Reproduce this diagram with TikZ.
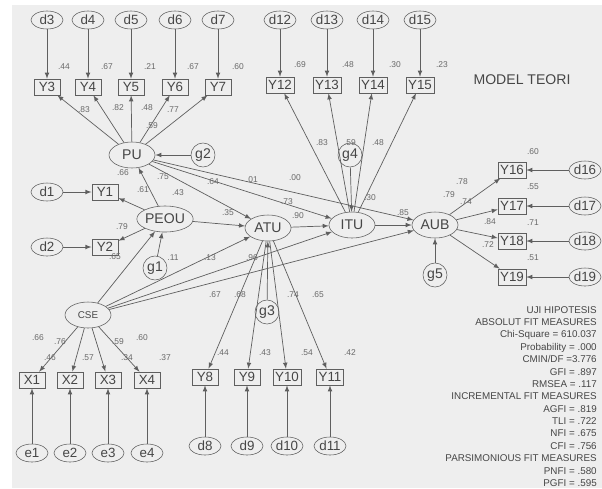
\documentclass[tikz,border=0pt]{standalone}
\usepackage{fontspec}
\setmainfont{Liberation Sans}
\usetikzlibrary{arrows,shapes.geometric}
\newcommand{\SemArrowType}{latex}
\definecolor{linegray}{RGB}{95,95,95}
\definecolor{txtgray}{RGB}{70,70,70}
\definecolor{wtgray}{RGB}{105,105,105}
\definecolor{bggray}{RGB}{238,238,238}

\begin{document}
\begin{tikzpicture}[>=\SemArrowType, x=0.025cm, y=-0.025cm,
        obs/.style={draw=linegray, rectangle, minimum width=0.66cm, minimum height=0.4cm, inner sep=1.5pt, text=txtgray, font=\fontsize{9.5}{10}\selectfont},
        lat/.style={draw=linegray, ellipse, minimum width=1.15cm, minimum height=0.65cm, inner sep=0pt, text=txtgray, font=\fontsize{10}{11}\selectfont},
        err/.style={draw=linegray, ellipse, minimum width=0.8cm, minimum height=0.45cm, inner sep=0pt, text=txtgray, font=\fontsize{9.5}{10}\selectfont},
        res/.style={draw=linegray, circle, minimum size=0.6cm, inner sep=0pt, text=txtgray, font=\fontsize{10}{11}\selectfont},
        wt/.style={text=wtgray, inner sep=0pt, font=\fontsize{6}{7}\selectfont},
        link/.style={->, draw=linegray, line width=0.5pt}]
                \fill[white] (0,0) rectangle (602,488);
                \fill[bggray] (12,5) rectangle (602,488);
                \useasboundingbox (0,0) rectangle (602,488);

                % latent variables
                \node[lat] (PU) at (132,155) {PU};
                \node[lat] (PEOU) at (165,219) {PEOU};
                \node[lat] (ATU) at (268,228) {ATU};
                \node[lat] (ITU) at (352,225) {ITU};
                \node[lat] (AUB) at (435,225) {AUB};
                \node[lat, font=\fontsize{7}{8}\selectfont] (CSE) at (88,315) {CSE};

                % residuals
                \node[res] (g1) at (155,268) {g1};
                \node[res] (g2) at (203,155) {g2};
                \node[res] (g3) at (267,312) {g3};
                \node[res] (g4) at (350,155) {g4};
                \node[res] (g5) at (435,275) {g5};

                % indicators of PU
                \node[obs] (Y3) at (47,87) {Y3};
                \node[obs] (Y4) at (88,87) {Y4};
                \node[obs] (Y5) at (131,87) {Y5};
                \node[obs] (Y6) at (175,87) {Y6};
                \node[obs] (Y7) at (218,87) {Y7};
                \node[err] (d3) at (47,20) {d3};
                \node[err] (d4) at (88,20) {d4};
                \node[err] (d5) at (131,20) {d5};
                \node[err] (d6) at (175,20) {d6};
                \node[err] (d7) at (218,20) {d7};

                % indicators of ITU
                \node[obs] (Y12) at (280,85) {Y12};
                \node[obs] (Y13) at (327,85) {Y13};
                \node[obs] (Y14) at (373,85) {Y14};
                \node[obs] (Y15) at (420,85) {Y15};
                \node[err] (d12) at (280,20) {d12};
                \node[err] (d13) at (327,20) {d13};
                \node[err] (d14) at (373,20) {d14};
                \node[err] (d15) at (420,20) {d15};

                % indicators of PEOU
                \node[obs] (Y1) at (105,192) {Y1};
                \node[obs] (Y2) at (105,247) {Y2};
                \node[err] (d1) at (47,192) {d1};
                \node[err] (d2) at (47,247) {d2};

                % indicators of AUB
                \node[obs] (Y16) at (512,170) {Y16};
                \node[obs] (Y17) at (512,206) {Y17};
                \node[obs] (Y18) at (512,241) {Y18};
                \node[obs] (Y19) at (512,277) {Y19};
                \node[err] (d16) at (585,170) {d16};
                \node[err] (d17) at (585,206) {d17};
                \node[err] (d18) at (585,241) {d18};
                \node[err] (d19) at (585,277) {d19};

                % indicators of CSE
                \node[obs] (X1) at (32,380) {X1};
                \node[obs] (X2) at (70,380) {X2};
                \node[obs] (X3) at (108,380) {X3};
                \node[obs] (X4) at (147,380) {X4};
                \node[err] (e1) at (32,453) {e1};
                \node[err] (e2) at (70,453) {e2};
                \node[err] (e3) at (108,453) {e3};
                \node[err] (e4) at (147,453) {e4};

                % indicators of ATU
                \node[obs] (Y8) at (205,377) {Y8};
                \node[obs] (Y9) at (247,377) {Y9};
                \node[obs] (Y10) at (287,377) {Y10};
                \node[obs] (Y11) at (330,377) {Y11};
                \node[err] (d8) at (205,446) {d8};
                \node[err] (d9) at (247,446) {d9};
                \node[err] (d10) at (287,446) {d10};
                \node[err] (d11) at (330,446) {d11};

                % paths
                \draw[link] (d3) -- (Y3);
                \draw[link] (d4) -- (Y4);
                \draw[link] (d5) -- (Y5);
                \draw[link] (d6) -- (Y6);
                \draw[link] (d7) -- (Y7);
                \draw[link] (PU) -- (Y3);
                \draw[link] (PU) -- (Y4);
                \draw[link] (PU) -- (Y5);
                \draw[link] (PU) -- (Y6);
                \draw[link] (PU) -- (Y7);
                \draw[link] (g2) -- (PU);
                \draw[link] (d12) -- (Y12);
                \draw[link] (d13) -- (Y13);
                \draw[link] (d14) -- (Y14);
                \draw[link] (d15) -- (Y15);
                \draw[link] (ITU) -- (Y12);
                \draw[link] (ITU) -- (Y13);
                \draw[link] (ITU) -- (Y14);
                \draw[link] (ITU) -- (Y15);
                \draw[link] (g4) -- (ITU);
                \draw[link] (d1) -- (Y1);
                \draw[link] (d2) -- (Y2);
                \draw[link] (PEOU) -- (Y1);
                \draw[link] (PEOU) -- (Y2);
                \draw[link] (PEOU) -- (PU);
                \draw[link] (g1) -- (PEOU);
                \draw[link] (PEOU) -- (ATU);
                \draw[link] (PU) -- (ATU);
                \draw[link] (PU) -- (ITU);
                \draw[link] (PU) -- (AUB);
                \draw[link] (CSE) -- (PEOU);
                \draw[link] (CSE) -- (ATU);
                \draw[link] (CSE) -- (ITU);
                \draw[link] (CSE) -- (AUB);
                \draw[link] (ATU) -- (ITU);
                \draw[link] (ITU) -- (AUB);
                \draw[link] (g3) -- (ATU);
                \draw[link] (g5) -- (AUB);
                \draw[link] (CSE) -- (X1);
                \draw[link] (CSE) -- (X2);
                \draw[link] (CSE) -- (X3);
                \draw[link] (CSE) -- (X4);
                \draw[link] (e1) -- (X1);
                \draw[link] (e2) -- (X2);
                \draw[link] (e3) -- (X3);
                \draw[link] (e4) -- (X4);
                \draw[link] (ATU) -- (Y8);
                \draw[link] (ATU) -- (Y9);
                \draw[link] (ATU) -- (Y10);
                \draw[link] (ATU) -- (Y11);
                \draw[link] (d8) -- (Y8);
                \draw[link] (d9) -- (Y9);
                \draw[link] (d10) -- (Y10);
                \draw[link] (d11) -- (Y11);
                \draw[link] (AUB) -- (Y16);
                \draw[link] (AUB) -- (Y17);
                \draw[link] (AUB) -- (Y18);
                \draw[link] (AUB) -- (Y19);
                \draw[link] (d16) -- (Y16);
                \draw[link] (d17) -- (Y17);
                \draw[link] (d18) -- (Y18);
                \draw[link] (d19) -- (Y19);

                % estimates
                \node[wt] (rY3) at (64,67) {.44};
                \node[wt] (rY4) at (107,67) {.67};
                \node[wt] (rY5) at (150,67) {.21};
                \node[wt] (rY6) at (193,67) {.67};
                \node[wt] (rY7) at (238,67) {.60};
                \node[wt] (lY3) at (84,110) {.83};
                \node[wt] (lY4) at (118,108) {.82};
                \node[wt] (lY5) at (147,108) {.48};
                \node[wt] (lY6) at (173,110) {.77};
                \node[wt] (lY7) at (152,126) {.59};
                \node[wt] (rY12) at (300,65) {.69};
                \node[wt] (rY13) at (348,65) {.48};
                \node[wt] (rY14) at (395,65) {.30};
                \node[wt] (rY15) at (442,65) {.23};
                \node[wt] (lY12) at (322,143) {.83};
                \node[wt] (lY13) at (350,143) {.59};
                \node[wt] (lY14) at (378,143) {.48};
                \node[wt] (rITU) at (370,198) {.30};
                \node[wt] (rPU) at (123,173) {.66};
                \node[wt] (pPEOUPU) at (143,190) {.61};
                \node[wt] (pPUATU) at (163,177) {.75};
                \node[wt] (pPEOUATU) at (178,193) {.43};
                \node[wt] (pPUITU) at (213,182) {.64};
                \node[wt] (pPUAUB) at (252,180) {.01};
                \node[wt] (pPUAUBb) at (295,178) {.00};
                \node[wt] (pATUITU) at (287,202) {.73};
                \node[wt] (pCSEITU) at (298,216) {.90};
                \node[wt] (rATU) at (228,213) {.35};
                \node[wt] (lY1) at (122,227) {.79};
                \node[wt] (lY2) at (115,257) {.65};
                \node[wt] (rPEOU) at (173,258) {.11};
                \node[wt] (pCSEATU) at (210,258) {.13};
                \node[wt] (pCSEAUB) at (252,258) {.96};
                \node[wt] (rAUB) at (403,213) {.85};
                \node[wt] (lY16) at (462,182) {.78};
                \node[wt] (lY17) at (449,195) {.79};
                \node[wt] (lY17b) at (466,202) {.74};
                \node[wt] (lY18) at (490,222) {.84};
                \node[wt] (lY19) at (488,245) {.72};
                \node[wt] (rY16) at (533,152) {.60};
                \node[wt] (rY17) at (533,187) {.55};
                \node[wt] (rY18) at (533,223) {.71};
                \node[wt] (rY19) at (533,258) {.51};
                \node[wt] (lX1) at (38,338) {.66};
                \node[wt] (lX2) at (60,342) {.76};
                \node[wt] (rX1) at (50,358) {.46};
                \node[wt] (rX2) at (88,358) {.57};
                \node[wt] (lX3) at (118,342) {.59};
                \node[wt] (lX4) at (142,338) {.60};
                \node[wt] (rX3) at (127,358) {.34};
                \node[wt] (rX4) at (165,358) {.37};
                \node[wt] (lY8) at (215,295) {.67};
                \node[wt] (lY9) at (240,295) {.68};
                \node[wt] (lY10) at (293,295) {.74};
                \node[wt] (lY11) at (318,295) {.65};
                \node[wt] (rY8) at (223,353) {.44};
                \node[wt] (rY9) at (265,353) {.43};
                \node[wt] (rY10) at (307,353) {.54};
                \node[wt] (rY11) at (350,353) {.42};

                % titles
                \node[text=txtgray, font=\fontsize{10}{12}\selectfont] (title) at (522,80) {MODEL TEORI};
                \node[anchor=north east, align=right, inner sep=0pt, text=txtgray, font=\fontsize{7}{8.8}\selectfont] (fit) at (597,306) {UJI HIPOTESIS\\ABSOLUT FIT MEASURES\\Chi-Square = 610.037\\Probability = .000\\CMIN/DF =3.776\\GFI = .897\\RMSEA = .117\\INCREMENTAL FIT MEASURES\\AGFI = .819\\TLI = .722\\NFI = .675\\CFI = .756\\PARSIMONIOUS FIT MEASURES\\PNFI = .580\\PGFI = .595};
        \end{tikzpicture}
\end{document}
